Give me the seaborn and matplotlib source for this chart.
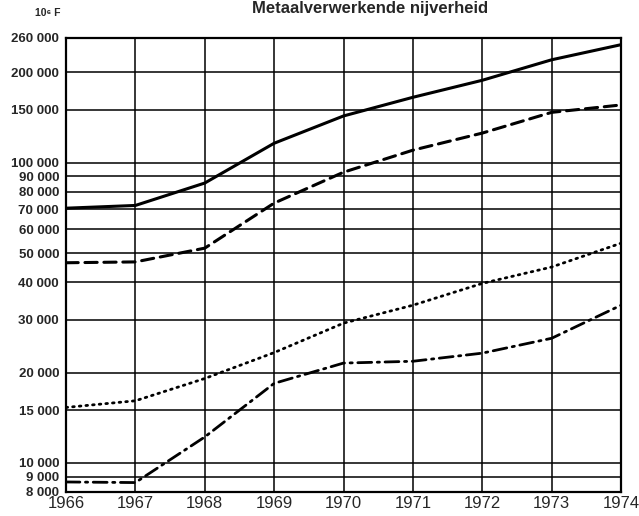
import matplotlib
matplotlib.use("Agg")
import matplotlib.pyplot as plt
import seaborn as sns
import pandas as pd

years = [1966, 1967, 1968, 1969, 1970, 1971, 1972, 1973, 1974]
solid_vals = [70500, 72000, 85500, 116000, 143000, 165000, 188000, 220000, 247000]
dashed_vals = [46400, 46700, 51900, 73300, 92900, 110000, 125400, 147000, 155600]
dotted_vals = [15300, 16100, 19100, 23300, 29200, 33500, 39600, 44900, 53900]
dashdot_vals = [8640, 8600, 12200, 18400, 21500, 21800, 23200, 26000, 33500]

y_ticks = [8000, 9000, 10000, 15000, 20000, 30000, 40000, 50000, 60000,
           70000, 80000, 90000, 100000, 150000, 200000, 260000]
y_labels = ["8 000", "9 000", "10 000", "15 000", "20 000", "30 000", "40 000",
            "50 000", "60 000", "70 000", "80 000", "90 000", "100 000",
            "150 000", "200 000", "260 000"]
title = "Metaalverwerkende nijverheid"
unit = "10⁶ F"

sns.set_theme(style="white")
plt.rcParams['font.family'] = ['Liberation Sans', 'DejaVu Sans']

fig = plt.figure(figsize=(6.39, 5.16), dpi=100)
ax = fig.add_axes([66/639, 1-492/516, (621-66)/639, (492-38)/516])

series = [
    (solid_vals, '-', 2.2),
    (dashed_vals, (0, (4, 2.2)), 2.2),
    (dotted_vals, (0, (0.6, 1.8)), 2.0),
    (dashdot_vals, (0, (5, 2, 0.8, 2)), 2.0),
]
for vals, ls, lw in series:
    df = pd.DataFrame({"year": years, "value": vals})
    sns.lineplot(data=df, x="year", y="value", ax=ax, color="black",
                 linestyle=ls, linewidth=lw, dash_capstyle='round')

ax.set_yscale('log')
ax.set_ylim(8000, 260000)
ax.set_xlim(1966, 1974)
ax.set_yticks(y_ticks)
ax.set_yticklabels(y_labels)
ax.minorticks_off()
ax.set_xticks(years)
ax.set_xticklabels([str(y) for y in years])
for t in y_ticks:
    ax.axhline(t, color='black', lw=1.1, zorder=0)
for yv in years:
    ax.axvline(yv, color='black', lw=1.1, zorder=0)
for s in ax.spines.values():
    s.set_visible(True)
    s.set_color('black')
    s.set_linewidth(1.6)
ax.tick_params(axis='y', length=0, pad=5, labelsize=9.5)
ax.tick_params(axis='x', length=0, pad=3, labelsize=12)
for lab in ax.get_yticklabels():
    lab.set_fontweight('bold')
ax.set_xlabel("")
ax.set_ylabel("")

fig.text(370/639, 0.999, title, ha='center', va='top', fontsize=12, fontweight='bold')
fig.text(48/639, 1-16/516, unit, ha='center', va='baseline', fontsize=7.5, fontweight='bold')

fig.savefig("out.png", dpi=100, facecolor='white')
